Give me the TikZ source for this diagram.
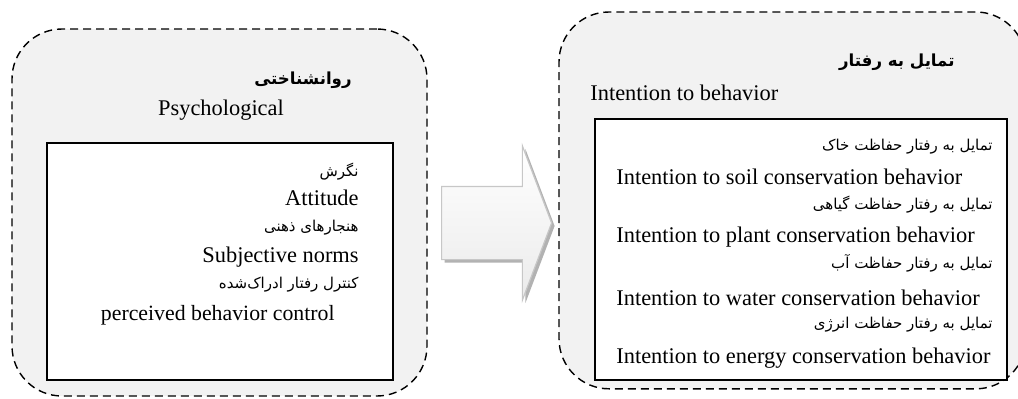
\documentclass[tikz,border=0pt]{standalone}
\usepackage{fontspec}
\setmainfont{Liberation Serif}
\newfontfamily\fafont[Script=Arabic]{DejaVu Sans}
\TeXXeTstate=1
\usetikzlibrary{shapes.arrows,shadows}
\begin{document}
\begin{tikzpicture}[x=0.5pt,y=-0.5pt,
    groupline/.style={dashed,dash pattern=on 4pt off 2.5pt,line width=0.7pt},
    group/.style={groupline,draw,fill=black!5,rounded corners=25pt,inner sep=0pt},
    inbox/.style={draw,line width=0.8pt,fill=white,inner sep=0pt},
    en/.style={inner sep=0pt,font=\fontsize{11.2}{13}\selectfont},
    fa/.style={inner sep=0pt,font=\fafont\fontsize{7.5}{9}\selectfont},
    fahead/.style={inner sep=0pt,font=\fafont\bfseries\fontsize{8.3}{10}\selectfont}]
    \useasboundingbox (0,0) rectangle (1018,398);
    % left group
    \node[group,minimum width=207.5pt,minimum height=183.5pt] (psych) at (219.5,212.5) {};
    \node[inbox,minimum width=173pt,minimum height=118.5pt] (psychin) at (220,261.5) {};
    \node[fahead,anchor=east] (psyfa) at (352,80) {\beginR روانشناختی\endR};
    \node[en] (psyen) at (221,110) {Psychological};
    \node[fa,anchor=east] (attfa) at (359,172) {\beginR نگرش\endR};
    \node[en,anchor=east] (atten) at (359,198) {Attitude};
    \node[fa,anchor=east] (normfa) at (359,228) {\beginR هنجارهای ذهنی\endR};
    \node[en,anchor=east] (normen) at (359,257) {Subjective norms};
    \node[fa,anchor=east] (pbcfa) at (359,285) {\beginR کنترل رفتار ادراک‌شده\endR};
    \node[en,anchor=east,font=\fontsize{10.9}{13}\selectfont] (pbcen) at (335,315) {perceived behavior control};
    % right group, its right side runs off the page
    \begin{scope}
    \clip (0,0) rectangle (1018,398);
    \node[fill=black!5,rounded corners=25pt,inner sep=0pt,anchor=north west,
      minimum width=233pt,minimum height=188pt] (intent) at (559,12) {};
    \draw[groupline] ([xshift=-25pt,yshift=-25pt]intent.north east) ++(31:25pt)
      arc[start angle=31,end angle=90,radius=25pt] -- ([xshift=25pt]intent.north west)
      arc[start angle=90,end angle=180,radius=25pt] -- ([yshift=25pt]intent.south west)
      arc[start angle=180,end angle=270,radius=25pt] -- ([xshift=-25pt]intent.south east)
      arc[start angle=270,end angle=329,radius=25pt];
    \end{scope}
    \node[inbox,minimum width=206pt,minimum height=130.5pt] (intentin) at (801,249.5) {};
    \node[fahead,anchor=east] (intfa) at (955,62) {\beginR تمایل به رفتار\endR};
    \node[en,anchor=west] (inten) at (590,93) {Intention to behavior};
    \node[fa,anchor=east] (soilfa) at (993,147) {\beginR تمایل به رفتار حفاظت خاک\endR};
    \node[en,anchor=west] (soilen) at (616,177) {Intention to soil conservation behavior};
    \node[fa,anchor=east] (plantfa) at (993,205) {\beginR تمایل به رفتار حفاظت گیاهی\endR};
    \node[en,anchor=west] (planten) at (616,237) {Intention to plant conservation behavior};
    \node[fa,anchor=east] (waterfa) at (993,263) {\beginR تمایل به رفتار حفاظت آب\endR};
    \node[en,anchor=west] (wateren) at (616,298) {Intention to water conservation behavior};
    \node[fa,anchor=east] (energyfa) at (993,325) {\beginR تمایل به رفتار حفاظت انرژی\endR};
    \node[en,anchor=west] (energyen) at (616,358) {Intention to energy conservation behavior};
    % block arrow
    \node[single arrow,draw=black!22,line width=0.6pt,top color=white,bottom color=black!8,
      inner sep=0pt,minimum height=55pt,single arrow head extend=20.25pt,
      single arrow tip angle=138.5,anchor=tail,
      drop shadow={shadow xshift=1.5pt,shadow yshift=-1.5pt,fill=black!30,opacity=1}]
      (link) at (441,223) {\rule{0pt}{36pt}};
\end{tikzpicture}
\end{document}
